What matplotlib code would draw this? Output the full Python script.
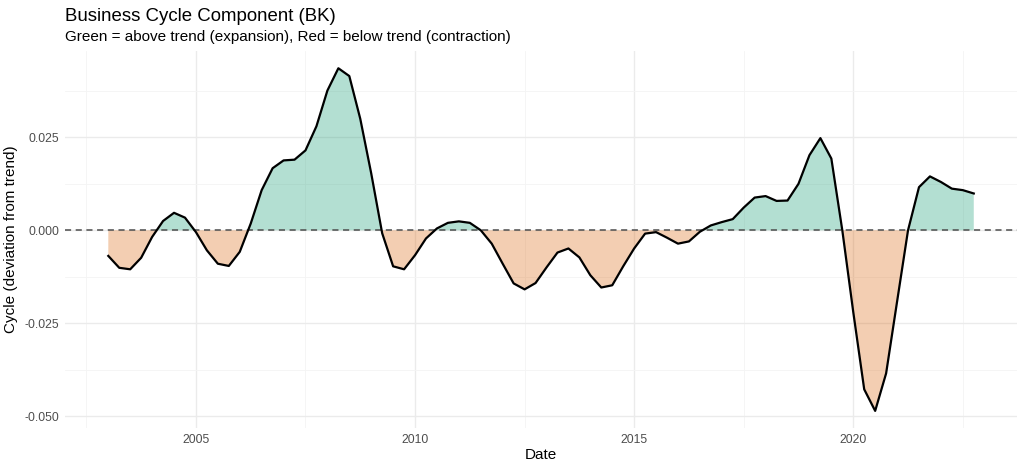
"""
Business cycle component (BK filter), quarterly deviation from trend.
"""
import numpy as np
import matplotlib
matplotlib.use("Agg")
import matplotlib.pyplot as plt
from matplotlib.ticker import MultipleLocator, FormatStrFormatter

plt.rcParams["font.family"] = ["Liberation Sans", "DejaVu Sans"]

# ── Data (quarterly, 2003Q1 .. 2022Q4) ────────────────────────────────────────
start_year = 2003.0
cycle = [
    -0.0069, -0.0101, -0.0105, -0.0074, -0.0018, 0.0025, 0.0047, 0.0034,
    -0.0005, -0.0054, -0.0090, -0.0096, -0.0058, 0.0018, 0.0108, 0.0167,
    0.0188, 0.0190, 0.0215, 0.0280, 0.0376, 0.0436, 0.0415, 0.0300,
    0.0153, -0.0008, -0.0097, -0.0105, -0.0067, -0.0022, 0.0005, 0.0020,
    0.0024, 0.0020, 0.0000, -0.0036, -0.0090, -0.0143, -0.0159, -0.0142,
    -0.0100, -0.0060, -0.0049, -0.0073, -0.0121, -0.0154, -0.0148, -0.0097,
    -0.0049, -0.0009, -0.0005, -0.0020, -0.0036, -0.0030, -0.0004, 0.0013,
    0.0022, 0.0030, 0.0061, 0.0088, 0.0092, 0.0079, 0.0080, 0.0125,
    0.0202, 0.0248, 0.0193, 0.0000, -0.0220, -0.0428, -0.0486, -0.0385,
    -0.0192, 0.0000, 0.0116, 0.0145, 0.0130, 0.0112, 0.0108, 0.0099,
]
dates = start_year + np.arange(len(cycle)) / 4.0
y = np.array(cycle)

# ── Canvas ────────────────────────────────────────────────────────────────────
fig = plt.figure(figsize=(10.24, 4.69), dpi=100)
ax = fig.add_axes([0.0635, 0.0874, 0.9297, 0.8036])
ax.set_facecolor("white")
for s in ax.spines.values():
    s.set_visible(False)

# grid (ggplot minimal look)
ax.xaxis.set_major_locator(MultipleLocator(5))
ax.xaxis.set_minor_locator(MultipleLocator(2.5))
ax.yaxis.set_major_locator(MultipleLocator(0.025))
ax.yaxis.set_minor_locator(MultipleLocator(0.0125))
ax.yaxis.set_major_formatter(FormatStrFormatter("%.3f"))
ax.grid(which="major", color="#ebebeb", lw=1.0, zorder=0)
ax.grid(which="minor", color="#f4f4f4", lw=0.6, zorder=0)
ax.tick_params(which="both", length=0, labelsize=8.8, labelcolor="#4d4d4d", pad=4)

# ── Fills ─────────────────────────────────────────────────────────────────────
ax.fill_between(dates, y, 0, where=y >= 0, interpolate=True,
                facecolor="#1b9e77", alpha=0.33, lw=0, zorder=2)
ax.fill_between(dates, y, 0, where=y <= 0, interpolate=True,
                facecolor="#d95f02", alpha=0.3, lw=0, zorder=2)

ax.axhline(0, color="#4d4d4d", lw=1.1, ls=(0, (4, 3)), zorder=3)
ax.plot(dates, y, color="black", lw=1.6, zorder=4)

# ── Limits ────────────────────────────────────────────────────────────────────
xr = dates[-1] - dates[0]
ax.set_xlim(dates[0] - 0.05 * xr, dates[-1] + 0.05 * xr)
yr = y.max() - y.min()
ax.set_ylim(y.min() - 0.05 * yr, y.max() + 0.05 * yr)

# ── Labels ────────────────────────────────────────────────────────────────────
ax.set_xlabel("Date", fontsize=11, labelpad=2)
ax.set_ylabel("Cycle (deviation from trend)", fontsize=11, labelpad=5)
fig.text(0.0635, 0.965, "Business Cycle Component (BK)", fontsize=13.4,
         ha="left", va="center")
fig.text(0.0635, 0.922,
         "Green = above trend (expansion), Red = below trend (contraction)",
         fontsize=11, ha="left", va="center")

plt.savefig("out.png", dpi=100, facecolor="white")
